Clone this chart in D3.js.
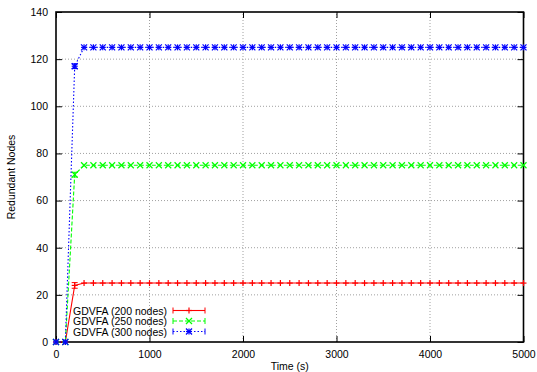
<!DOCTYPE html>
<html>
<head>
<meta charset="utf-8">
<script src="https://cdn.jsdelivr.net/npm/d3@7"></script>
<style>
  body { margin: 0; background: #fff; }
  svg { display: block; font-family: 'Liberation Sans', Arial, sans-serif; }
</style>
</head>
<body>
<svg id="chart"></svg>
<script>
const times = [
  0, 100, 200, 300, 400, 500, 600, 700, 800, 900,
  1000, 1100, 1200, 1300, 1400, 1500, 1600, 1700, 1800, 1900,
  2000, 2100, 2200, 2300, 2400, 2500, 2600, 2700, 2800, 2900,
  3000, 3100, 3200, 3300, 3400, 3500, 3600, 3700, 3800, 3900,
  4000, 4100, 4200, 4300, 4400, 4500, 4600, 4700, 4800, 4900, 5000
];

const nodes200 = [
  0, 0, 24, 25, 25, 25, 25, 25, 25, 25,
  25, 25, 25, 25, 25, 25, 25, 25, 25, 25,
  25, 25, 25, 25, 25, 25, 25, 25, 25, 25,
  25, 25, 25, 25, 25, 25, 25, 25, 25, 25,
  25, 25, 25, 25, 25, 25, 25, 25, 25, 25, 25
];
const nodes250 = [
  0, 0, 71, 75, 75, 75, 75, 75, 75, 75,
  75, 75, 75, 75, 75, 75, 75, 75, 75, 75,
  75, 75, 75, 75, 75, 75, 75, 75, 75, 75,
  75, 75, 75, 75, 75, 75, 75, 75, 75, 75,
  75, 75, 75, 75, 75, 75, 75, 75, 75, 75, 75
];
const nodes300 = [
  0, 0, 117, 125, 125, 125, 125, 125, 125, 125,
  125, 125, 125, 125, 125, 125, 125, 125, 125, 125,
  125, 125, 125, 125, 125, 125, 125, 125, 125, 125,
  125, 125, 125, 125, 125, 125, 125, 125, 125, 125,
  125, 125, 125, 125, 125, 125, 125, 125, 125, 125, 125
];
// error bar half-heights (only the ramp point has a visible spread)
const err200 = [0, 0, 1.2];
const err250 = [0, 0, 1];
const err300 = [0, 0, 1];

const seriesNames = ['GDVFA (200 nodes)', 'GDVFA (250 nodes)', 'GDVFA (300 nodes)'];
const xTicks = [0, 1000, 2000, 3000, 4000, 5000];
const yTicks = [0, 20, 40, 60, 80, 100, 120, 140];

const width = 537, height = 372;
const margin = { top: 12, right: 13.5, bottom: 30, left: 56 };
const fontSize = 10.5;

const svg = d3.select('#chart').attr('width', width).attr('height', height);

const x = d3.scaleLinear().domain([0, 5000]).range([margin.left, width - margin.right]);
const y = d3.scaleLinear().domain([0, 140]).range([height - margin.bottom, margin.top]);

const styles = [
  { color: '#ff0000', dash: null, marker: 'plus' },
  { color: '#00ff00', dash: '4,2', marker: 'cross' },
  { color: '#0000ff', dash: '1.5,2', marker: 'star' }
];

// grid
const grid = svg.append('g').attr('stroke', '#a0a0a0').attr('stroke-dasharray', '1,2').attr('stroke-width', 1);
xTicks.slice(1, -1).forEach(t => {
  grid.append('line').attr('x1', x(t)).attr('x2', x(t)).attr('y1', y(0)).attr('y2', y(140));
});
yTicks.slice(1, -1).forEach(t => {
  grid.append('line').attr('x1', x(0)).attr('x2', x(5000)).attr('y1', y(t)).attr('y2', y(t));
});

// axes: ticks inward, mirrored
const axisBottom = svg.append('g').attr('transform', `translate(0,${y(0)})`)
  .call(d3.axisBottom(x).tickValues(xTicks).tickSize(-6).tickPadding(9).tickFormat(d3.format('d')));
const axisTop = svg.append('g').attr('transform', `translate(0,${y(140)})`)
  .call(d3.axisTop(x).tickValues(xTicks).tickSize(-6).tickFormat(''));
const axisLeft = svg.append('g').attr('transform', `translate(${x(0)},0)`)
  .call(d3.axisLeft(y).tickValues(yTicks).tickSize(-6).tickPadding(8));
const axisRight = svg.append('g').attr('transform', `translate(${x(5000)},0)`)
  .call(d3.axisRight(y).tickValues(yTicks).tickSize(-6).tickFormat(''));

[axisBottom, axisTop, axisLeft, axisRight].forEach(a => {
  a.select('.domain').remove();
  a.selectAll('.tick line').attr('stroke', '#000').attr('stroke-width', 1);
  a.selectAll('text').attr('font-size', fontSize).attr('fill', '#000').attr('font-family', null);
});

svg.append('rect')
  .attr('x', x(0)).attr('y', y(140))
  .attr('width', x(5000) - x(0)).attr('height', y(0) - y(140))
  .attr('fill', 'none').attr('stroke', '#000').attr('stroke-width', 1.6);

// labels
svg.append('text')
  .attr('x', (x(0) + x(5000)) / 2).attr('y', height - 2)
  .attr('text-anchor', 'middle').attr('font-size', fontSize)
  .text('Time (s)');
svg.append('text')
  .attr('transform', `translate(15,${(y(0) + y(140)) / 2}) rotate(-90)`)
  .attr('text-anchor', 'middle').attr('font-size', fontSize)
  .text('Redundant Nodes');

const drawMarker = (g, type, cx, cy, color) => {
  const s = 3;
  const segs = [];
  if (type === 'plus' || type === 'star') segs.push([-s, 0, s, 0], [0, -s, 0, s]);
  if (type === 'cross' || type === 'star') segs.push([-s, -s, s, s], [-s, s, s, -s]);
  segs.forEach(p => {
    g.append('line')
      .attr('x1', cx + p[0]).attr('y1', cy + p[1])
      .attr('x2', cx + p[2]).attr('y2', cy + p[3])
      .attr('stroke', color).attr('stroke-width', 1.2);
  });
};

const allSeries = [nodes200, nodes250, nodes300];
const allErr = [err200, err250, err300];

const line = d3.line().x(d => x(d[0])).y(d => y(d[1]));

allSeries.forEach((vals, i) => {
  const st = styles[i];
  const pts = times.map((t, j) => [t, vals[j]]);
  const g = svg.append('g');
  g.append('path')
    .datum(pts)
    .attr('d', line)
    .attr('fill', 'none')
    .attr('stroke', st.color)
    .attr('stroke-width', 1.1)
    .attr('stroke-dasharray', st.dash);
  allErr[i].forEach((e, j) => {
    if (!e) return;
    const cx = x(times[j]);
    const lo = y(vals[j] - e), hi = y(vals[j] + e);
    g.append('line').attr('x1', cx).attr('x2', cx).attr('y1', lo).attr('y2', hi).attr('stroke', st.color);
    [lo, hi].forEach(yy => {
      g.append('line').attr('x1', cx - 3).attr('x2', cx + 3).attr('y1', yy).attr('y2', yy).attr('stroke', st.color);
    });
  });
  pts.forEach(p => drawMarker(g, st.marker, x(p[0]), y(p[1]), st.color));
});

// legend
const legend = svg.append('g');
seriesNames.forEach((name, i) => {
  const st = styles[i];
  const ly = 310.5 + i * 10.5;
  legend.append('text')
    .attr('x', 167).attr('y', ly + 4)
    .attr('text-anchor', 'end').attr('font-size', fontSize)
    .text(name);
  legend.append('line')
    .attr('x1', 173).attr('x2', 205).attr('y1', ly).attr('y2', ly)
    .attr('stroke', st.color).attr('stroke-width', 1.1)
    .attr('stroke-dasharray', st.dash);
  [173, 205].forEach(lx => {
    legend.append('line')
      .attr('x1', lx).attr('x2', lx).attr('y1', ly - 3).attr('y2', ly + 3)
      .attr('stroke', st.color);
  });
  drawMarker(legend, st.marker, 189, ly, st.color);
});
</script>
</body>
</html>
